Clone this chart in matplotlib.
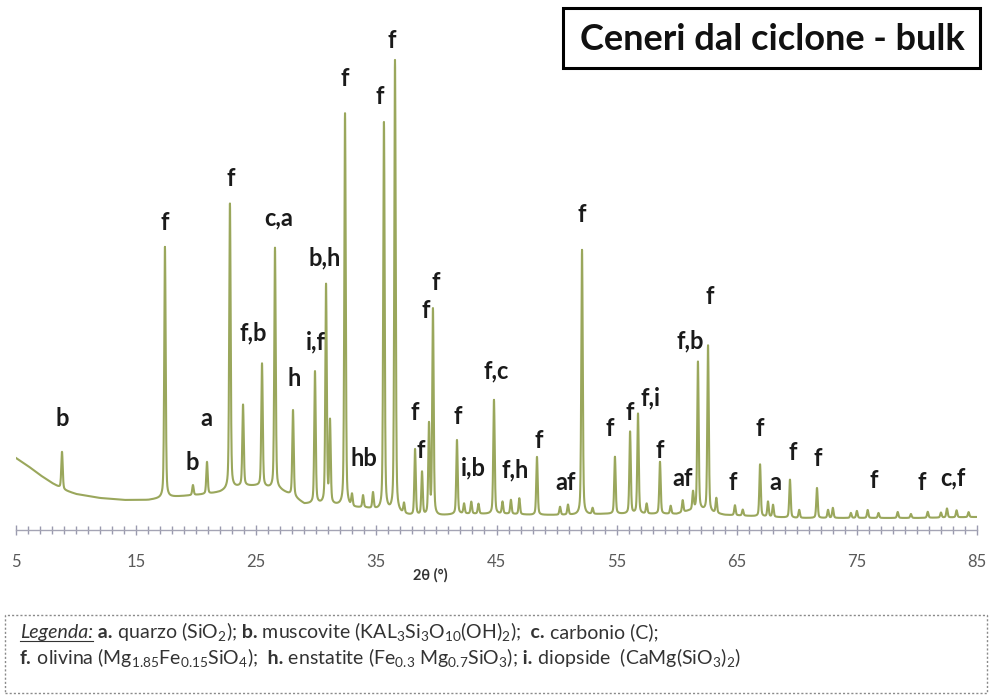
import numpy as np
import matplotlib
matplotlib.use("Agg")
import matplotlib.pyplot as plt
from matplotlib.patches import Rectangle
from matplotlib.lines import Line2D

plt.rcParams['font.family'] = ['Lato', 'DejaVu Sans']
plt.rcParams['mathtext.fontset'] = 'custom'
plt.rcParams['mathtext.rm'] = 'Lato'
plt.rcParams['mathtext.it'] = 'Lato:italic'
plt.rcParams['mathtext.bf'] = 'Lato:bold'

# ---------------- data ----------------
# background (2theta, counts)
bg_theta = [5, 6, 7, 8, 9, 10, 12, 14, 16, 18, 20, 21, 22, 23, 24, 25, 26, 27, 28, 29, 30,
            31, 32, 33, 34, 35, 36, 37, 38, 40, 42, 44, 46, 48, 50, 52, 54, 56, 58, 60,
            61, 62, 63, 64, 66, 68, 70, 72, 80, 85]
bg_counts = [72, 64, 55, 47, 40, 36, 32, 30, 30, 33, 35, 36, 38, 42, 44, 44, 42, 40, 34, 26, 26,
             25, 24, 22, 22, 20, 18, 16, 14, 14, 16, 16, 16, 15, 15, 15, 16, 16, 16, 16,
             19, 20, 17, 15, 14, 13, 12, 12, 12, 13]

# diffraction peaks (2theta, net height)
peak_pos = [8.83, 17.40, 19.73, 20.90, 22.81, 23.90, 25.48, 26.56, 28.06, 29.89, 30.81, 31.14,
            32.39, 32.97, 33.89, 34.72, 35.63, 36.55, 37.30, 38.22, 38.80, 39.38, 39.71,
            41.71, 42.30, 42.90, 43.50, 44.79, 45.50, 46.20, 46.90, 48.37, 50.29, 50.95,
            52.12, 53.00, 54.86, 56.12, 56.78, 57.50, 58.61, 59.50, 60.50, 61.36, 61.77,
            62.61, 63.30, 64.85, 65.50, 66.94, 67.60, 68.02, 69.43, 70.20, 71.68, 72.60,
            73.00, 74.50, 75.00, 75.90, 76.80, 78.40, 79.50, 80.90, 82.00, 82.50, 83.30, 84.30]
peak_height = [37, 251, 10, 32, 285, 81, 123, 241, 86, 132, 219, 82,
               393, 12, 12, 16, 388, 452, 10, 66, 43, 90, 206,
               74, 10, 12, 10, 114, 12, 14, 16, 58, 8, 10,
               265, 6, 57, 82, 100, 10, 52, 8, 12, 18, 148,
               166, 15, 10, 6, 52, 15, 12, 38, 8, 30, 8,
               10, 5, 7, 8, 5, 6, 4, 6, 5, 9, 7, 5]

# phase labels: text, 2theta, height
lab_text = ['b', 'f', 'b', 'a', 'f', 'c,a', 'f,b', 'h', 'i,f', 'b,h', 'f', 'hb', 'f', 'f',
            'f', 'f', 'f', 'f', 'f', 'i,b', 'f,c', 'f,h', 'f', 'af', 'f', 'f', 'f', 'f,i',
            'f', 'af', 'f,b', 'f', 'f', 'f', 'a', 'f', 'f', 'f', 'f', 'c,f']
lab_theta = [8.83, 17.40, 19.65, 20.82, 22.90, 26.89, 24.73, 28.14, 29.97, 30.72, 32.39, 33.97,
             35.30, 36.30, 38.22, 38.71, 39.13, 39.96, 41.79, 43.04, 44.96, 46.54, 48.54,
             50.79, 52.12, 54.45, 56.12, 57.86, 58.61, 60.53, 61.11, 62.77, 64.69, 66.94,
             68.18, 69.68, 71.76, 76.42, 80.42, 83.00]
lab_y = [112, 308, 68, 112, 352, 312, 197, 152, 188, 272, 452, 72, 433, 490,
         118, 80, 220, 248, 114, 62, 159, 60, 90, 48, 316, 102, 117, 132,
         80, 52, 189, 233, 47, 101, 48, 78, 72, 50, 48, 52]

xticks = [5, 15, 25, 35, 45, 55, 65, 75, 85]

title = "Ceneri dal ciclone - bulk"

# ---------------- figure ----------------
W, H = 991, 695
fig = plt.figure(figsize=(W / 100, H / 100), dpi=100)
ax = fig.add_axes([16 / W, 165 / H, 961 / W, 500 / H])
ax.set_xlim(5, 85)
ax.set_ylim(0, 500)

theta = np.linspace(5, 85, 8001)
counts = np.interp(theta, bg_theta, bg_counts)
fw = 0.14
for p, h in zip(peak_pos, peak_height):
    g = np.exp(-4 * np.log(2) * ((theta - p) / fw) ** 2)
    l = 1.0 / (1 + 4 * ((theta - p) / fw) ** 2)
    counts = counts + h * (0.6 * g + 0.4 * l)
ax.plot(theta, counts, color='#9aa75c', lw=1.5, zorder=2)

for t, x, y in zip(lab_text, lab_theta, lab_y):
    ax.text(x, y, t, ha='center', va='center', fontsize=17, fontweight='bold',
            color='#1a1a1a', zorder=3)

for s in ['left', 'right', 'top']:
    ax.spines[s].set_visible(False)
ax.spines['bottom'].set_color('#a4a4b4')
ax.spines['bottom'].set_linewidth(1.0)
ax.set_yticks([])
ax.set_xticks(xticks)
ax.set_xticklabels([str(v) for v in xticks])
ax.set_xticks(np.arange(5, 86, 1), minor=True)
ax.tick_params(axis='x', which='major', direction='inout', length=7, width=1,
               color='#9a9aae', labelsize=12, labelcolor='#5a5a5a', pad=14)
ax.tick_params(axis='x', which='minor', direction='inout', length=6, width=1,
               color='#9a9aae')

fig.text(430 / W, 1 - 575 / H, "2θ (°)", ha='center', va='center', fontsize=10.5,
         fontweight='bold', color='#333333')

# title box
fig.patches.append(Rectangle((563 / W, 1 - 68 / H), 417 / W, 60 / H, transform=fig.transFigure,
                             fill=False, edgecolor='black', lw=2.2))
fig.text(772 / W, 1 - 39 / H, title, ha='center', va='center', fontsize=26,
         fontweight='bold', color='#111111')

# legend box
fig.patches.append(Rectangle((5 / W, 1 - 693 / H), 982 / W, 78 / H, transform=fig.transFigure,
                             fill=False, edgecolor='#8a8a8a', lw=1.0, linestyle=(0, (1.5, 1.5))))

line1 = [("Legenda:", dict(style='italic'), True),
         (" a.", dict(fontweight='bold'), False), (" quarzo (SiO$_2$);", {}, False),
         (" b.", dict(fontweight='bold'), False),
         (" muscovite (KAL$_3$Si$_3$O$_{10}$(OH)$_2$);", {}, False),
         ("  c.", dict(fontweight='bold'), False), (" carbonio (C);", {}, False)]
line2 = [("f.", dict(fontweight='bold'), False),
         (" olivina (Mg$_{1.85}$Fe$_{0.15}$SiO$_4$);", {}, False),
         ("  h.", dict(fontweight='bold'), False),
         (" enstatite (Fe$_{0.3}$ Mg$_{0.7}$SiO$_3$);", {}, False),
         (" i.", dict(fontweight='bold'), False), (" diopside  (CaMg(SiO$_3$)$_2$)", {}, False)]

renderer = fig.canvas.get_renderer()


def draw_rich(pieces, x0, ypix, fs):
    objs = []
    x = x0
    for s, kw, under in pieces:
        t = fig.text(x / W, 1 - ypix / H, s, ha='left', va='baseline', fontsize=fs,
                     color='#333333', **kw)
        bb = t.get_window_extent(renderer)
        objs.append(t)
        if under:
            ln = Line2D([bb.x0 / W, bb.x1 / W], [(H - ypix - 2.5) / H] * 2,
                        transform=fig.transFigure, color='#333333', lw=0.8)
            fig.add_artist(ln)
            objs.append(ln)
        x = bb.x1
    return objs, x - x0


fs0 = 10.5
o1, w1 = draw_rich(line1, 20, 638, fs0)
o2, w2 = draw_rich(line2, 20, 664, fs0)
scale = ((676 - 20) / w1 + (724 - 20) / w2) / 2
for o in o1 + o2:
    o.set_visible(False)
draw_rich(line1, 20, 638, fs0 * scale)
draw_rich(line2, 20, 664, fs0 * scale)

fig.savefig("out.png", dpi=100, facecolor='white')
